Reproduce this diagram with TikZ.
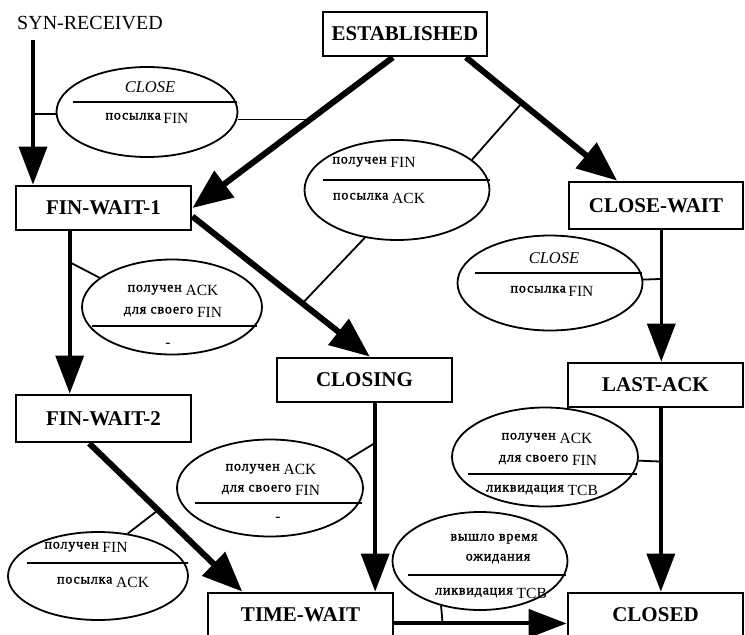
\documentclass[tikz,border=0pt]{standalone}
\usepackage{fontspec}
\setmainfont{Liberation Serif}
\newfontfamily\cyrfont[LetterSpace=6,FakeBold=1.5]{Liberation Serif}
\usetikzlibrary{arrows.meta,shapes.geometric,calc}

% Cyrillic words sit a little above the Latin baseline
\newcommand\cyr[1]{\raisebox{3.5pt}{\fontsize{14}{14}\selectfont\cyrfont #1}}

\tikzset{
  state/.style n args={2}{draw, line width=2.8pt, minimum width=#1pt,
    minimum height=#2pt, inner sep=0pt, font=\fontsize{21}{21}\selectfont\bfseries},
  guard/.style n args={2}{draw, ellipse, line width=1.8pt, minimum width=#1pt,
    minimum height=#2pt, inner sep=0pt},
  lbl/.style={inner sep=0pt, anchor=base, font=\fontsize{15.5}{15.5}\selectfont},
  evt/.style={inner sep=0pt, anchor=base, font=\fontsize{16.5}{16.5}\selectfont\itshape},
  move/.style={-{Triangle[length=38pt,width=28pt]}, line width=3.6pt},
  mainmove/.style={-{Triangle[length=40pt,width=32pt]}, line width=6pt},
  link/.style={line width=1.8pt},
  bar/.style={line width=1.8pt},
}

\begin{document}
\begin{tikzpicture}[x=1pt,y=-1pt]
\useasboundingbox (0,0) rectangle (745,635);
\clip (0,0) rectangle (745,635);

% states
\node[inner sep=0pt, anchor=base west, font=\fontsize{20}{20}\selectfont] (syn) at (17,29) {SYN-RECEIVED};
\node[state={164}{44}] (est)  at (405,34)    {ESTABLISHED};
\node[state={175}{44}] (fw1)  at (103.5,208) {FIN-WAIT-1};
\node[state={174}{47}] (cwt)  at (656,205.5) {CLOSE-WAIT};
\node[state={175}{44}] (clg)  at (364.5,380) {CLOSING};
\node[state={175}{44}] (lack) at (655.5,385) {LAST-ACK};
\node[state={175}{47}] (fw2)  at (103.5,418.5) {FIN-WAIT-2};
\node[state={185}{44}] (tw)   at (300.5,615) {TIME-WAIT};
\node[state={175}{44}] (cld)  at (655.5,615) {CLOSED};

% transitions
\coordinate (synfoot) at (33,40);
\draw[move] (synfoot) -- coordinate[pos=.51] (k1) (synfoot |- fw1.north);
\draw[mainmove] ($(est.south west)!.427!(est.south east)$) -- coordinate[pos=.413] (k2) (fw1.east);
\draw[mainmove] ($(est.south west)!.866!(est.south east)$) -- coordinate[pos=.37] (k3)
  ($(cwt.north west)!.28!(cwt.north east)$);
\draw[mainmove] ($(fw1.north east)!.68!(fw1.south east)$) -- coordinate[pos=.62] (k4)
  ($(clg.north west)!.53!(clg.north east)$);
\draw[move] ($(fw1.south west)!.31!(fw1.south east)$) coordinate (a5) -- coordinate[pos=.19] (k5) (a5 |- fw2.north);
\draw[move] ($(cwt.south west)!.53!(cwt.south east)$) coordinate (a6) -- coordinate[pos=.37] (k6) (a6 |- lack.north);
\draw[move] ($(clg.south west)!.56!(clg.south east)$) coordinate (a7) -- coordinate[pos=.21] (k7) (a7 |- tw.north);
\draw[mainmove] ($(fw2.south west)!.42!(fw2.south east)$) -- coordinate[pos=.45] (k8)
  ($(tw.north west)!.19!(tw.north east)$);
\draw[move] ($(lack.south west)!.53!(lack.south east)$) coordinate (a9) -- coordinate[pos=.29] (k9) (a9 |- cld.north);
\draw[move, line width=4pt] ($(tw.north east)!.68!(tw.south east)$) coordinate (a10) -- coordinate[pos=.28] (k10) (a10 -| cld.west);

% guard ellipses: event above the bar, action below
\node[guard={181}{90}]  (e1) at (147,112) {};
\draw[bar] (73,102) -- (237,102);
\node[evt] (e1a) at (150,92) {CLOSE};
\node[lbl] (e1b) at (147,123) {\cyr{посылка}\,FIN};

\node[guard={185}{100}] (e2) at (397,190) {};
\draw[bar] (323,180) -- (490,180);
\node[lbl] (e2a) at (374,167) {\cyr{получен} FIN};
\node[lbl] (e2b) at (379,203) {\cyr{посылка} ACK};

\node[guard={180}{95}]  (e3) at (172,307) {};
\draw[bar] (92,326) -- (257,326);
\node[lbl] (e3a) at (173,295) {\cyr{получен} ACK};
\node[lbl] (e3b) at (173,317) {\cyr{для своего} FIN};
\node[lbl] (e3c) at (168,347) {-};

\node[guard={185}{95}]  (e4) at (550,283) {};
\draw[bar] (475,273) -- (642,273);
\node[evt] (e4a) at (554,263) {CLOSE};
\node[lbl] (e4b) at (552,296) {\cyr{посылка}\,FIN};

\node[guard={186}{97}]  (e5) at (270,488) {};
\draw[bar] (195,503) -- (362,503);
\node[lbl] (e5a) at (271,474) {\cyr{получен} ACK};
\node[lbl] (e5b) at (271,495) {\cyr{для своего} FIN};
\node[lbl] (e5c) at (278,521) {-};

\node[guard={180}{88}]  (e6) at (98,576) {};
\draw[bar] (27,563) -- (188,563);
\node[lbl] (e6a) at (86,552) {\cyr{получен} FIN};
\node[lbl] (e6b) at (103,587) {\cyr{посылка} ACK};

\node[guard={186}{99}]  (e7) at (545,457) {};
\draw[bar] (468,474) -- (637,474);
\node[lbl] (e7a) at (547,443) {\cyr{получен} ACK};
\node[lbl] (e7b) at (548,465) {\cyr{для своего} FIN};
\node[lbl] (e7c) at (542,495) {\cyr{ликвидация} TCB};

\node[guard={175}{98}]  (e8) at (480,561) {};
\draw[bar] (408,575) -- (566,575);
\node[lbl] (e8a) at (494,544) {\cyr{вышло время}};
\node[lbl] (e8b) at (498,564) {\cyr{ожидания}};
\node[lbl] (e8c) at (491,598) {\cyr{ликвидация} TCB};

% ellipse-to-transition links
\draw[link] (e1.west |- k1) -- (k1);
\draw[link] (e1.east |- k2) -- (k2);
\draw[link] (e2.22) -- (k3);
\draw[link] (e2.-124) -- (k4);
\draw[link] (e3.158) -- (k5);
\draw[link] (e4) -- (k6);
\draw[link] (e5.20) -- (k7);
\draw[link] (e6.55) -- (k8);
\draw[link] (e7) -- (k9);
\draw[link] (e8.-131) -- (k10);
\end{tikzpicture}
\end{document}
